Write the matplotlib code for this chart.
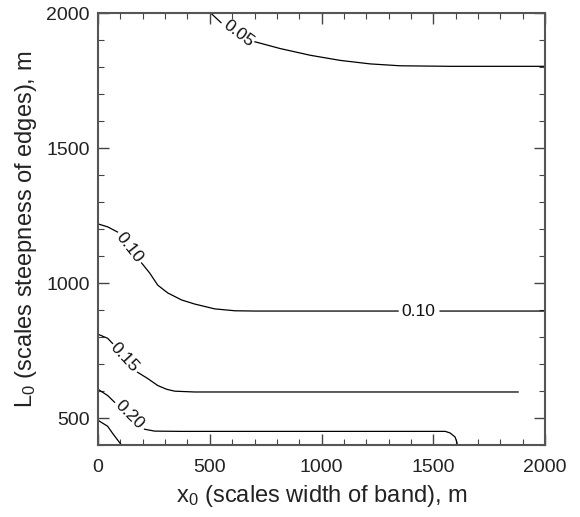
import numpy as np
import matplotlib
matplotlib.use("Agg")
import matplotlib.pyplot as plt
from matplotlib.ticker import MultipleLocator

plt.rcParams['font.family'] = ['Liberation Sans', 'DejaVu Sans']
plt.rcParams['mathtext.fontset'] = 'custom'
plt.rcParams['mathtext.rm'] = 'Liberation Sans'
plt.rcParams['mathtext.it'] = 'Liberation Sans:italic'

nan = np.nan
# contour lines (NaN = gap for inline label)
c005_x = [506, 550, nan, 702, 814, 949, 1083, 1217, 1351, 1575, 2000]
c005_y = [2000, 1966, nan, 1895, 1870, 1845, 1826, 1813, 1806, 1804, 1804]

c010_x = [0, 43, 87, nan, 195, 231, 267, 312, 374, 432, 522, 612, 701, 1342, nan, 1530, 2000]
c010_y = [1220, 1209, 1190, nan, 1075, 1038, 993, 964, 938, 923, 905, 898, 897, 897, nan, 897, 897]

c015_x = [0, 43, 65, nan, 177, 222, 267, 307, 343, 432, 1879]
c015_y = [811, 796, 777, nan, 670, 647, 621, 607, 600, 597, 597]

c020_x = [0, 43, 74, nan, 208, 253, 367, 1553, 1575, 1597, 1606, 1606]
c020_y = [607, 584, 559, nan, 459, 452, 451, 451, 445, 430, 408, 400]

c025_x = [0, 43, 65, 105]
c025_y = [492, 470, 444, 400]

# inline labels: text, x, y, rotation
label_text = ['0.05', '0.10', '0.10', '0.15', '0.20']
label_x = [630, 141, 1433, 119, 141]
label_y = [1924, 1134, 897, 726, 511]
label_rot = [-37, -52, 0, -47, -45]

fig = plt.figure(figsize=(5.8, 5.17), dpi=100)
ax = fig.add_axes([0.169, 0.139, 0.771, 0.835])

for xs, ys in [(c005_x, c005_y), (c010_x, c010_y), (c015_x, c015_y),
               (c020_x, c020_y), (c025_x, c025_y)]:
    ax.plot(xs, ys, color='black', lw=0.9)

for t, x, y, r in zip(label_text, label_x, label_y, label_rot):
    ax.text(x, y, t, rotation=r, rotation_mode='anchor', ha='center', va='center',
            fontsize=12.5, color='#111111')

ax.set_xlim(0, 2000)
ax.set_ylim(400, 2000)
ax.xaxis.set_major_locator(MultipleLocator(500))
ax.xaxis.set_minor_locator(MultipleLocator(100))
ax.yaxis.set_major_locator(MultipleLocator(500))
ax.yaxis.set_minor_locator(MultipleLocator(100))
ax.set_yticks([500, 1000, 1500, 2000])
ax.tick_params(which='both', direction='in', top=True, right=True, color='#444444')
ax.tick_params(which='major', length=8, width=1.0, labelsize=14, labelcolor='#222222', pad=6)
ax.tick_params(axis='x', which='major', pad=10)
ax.tick_params(which='minor', length=4, width=0.8)
for s in ax.spines.values():
    s.set_color('#555555')
    s.set_linewidth(1.5)

ax.set_xlabel(r'x$_\mathregular{0}$ (scales width of band), m', fontsize=17, color='#222222', labelpad=5)
ax.set_ylabel(r'L$_\mathregular{0}$ (scales steepness of edges), m', fontsize=17, color='#222222', labelpad=5)

fig.savefig('out.png', dpi=100)
